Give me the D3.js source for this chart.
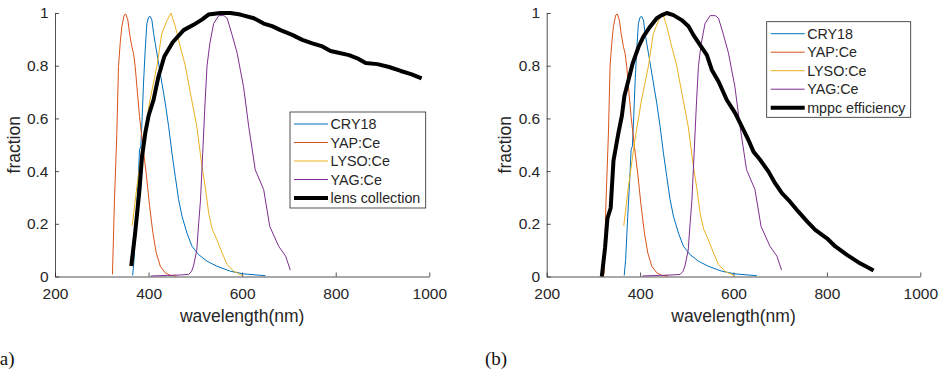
<!DOCTYPE html>
<html><head><meta charset="utf-8">
<script src="https://cdn.jsdelivr.net/npm/d3@7"></script>
<style>
html,body{margin:0;padding:0;background:#fff;}
svg{display:block;}
</style>
</head><body>
<svg id="chart" width="943" height="373"></svg>
<script>
// ---------- data ----------
const xTicks = [200, 400, 600, 800, 1000];
const yTicks = [0, 0.2, 0.4, 0.6, 0.8, 1];
const seriesNames = ["CRY18", "YAP:Ce", "LYSO:Ce", "YAG:Ce"];
const seriesColors = ["#0072BD", "#D95319", "#EDB120", "#7E2F8E"];

const cry18Wl  = [366,369,373.5,378.5,380.7,383.5,386.4,389.2,392.8,396.4,400,403.5,407.1,410.7,414.2,421.4,428.5,435.7,442.8,450,457,464.2,471.4,482,492.8,507,525,546,575,603,650];
const cry18Val = [0.004,0.064,0.228,0.393,0.481,0.494,0.607,0.734,0.86,0.961,0.984,0.987,0.973,0.923,0.885,0.81,0.734,0.658,0.57,0.468,0.38,0.292,0.229,0.165,0.115,0.083,0.058,0.039,0.02,0.01,0.003];

const yapWl  = [322.8,327.1,332.1,335.7,339.3,342.8,347.8,351.4,355.7,359.3,364.3,367.8,371.4,375,380.7,388,395,402,409.2,416.4,425,435.7,446.4,460];
const yapVal = [0.008,0.29,0.54,0.797,0.885,0.948,0.992,0.996,0.973,0.923,0.872,0.847,0.797,0.721,0.607,0.49,0.39,0.27,0.166,0.09,0.039,0.014,0.004,0.002];

const lysoWl  = [365,375,389,403,418,428,439,448,457,468,478.5,489,503,514,521,528.5,536,546,557,568,582,600];
const lysoVal = [0.193,0.34,0.52,0.67,0.80,0.92,0.97,1.0,0.95,0.87,0.80,0.70,0.57,0.42,0.34,0.24,0.18,0.14,0.09,0.045,0.02,0.004];

const yagWl  = [405,440,470,486,492,496,503,507,511,516,521,525,531,539,550,561,568,578,589,603,614,628,646,659,678,693,703];
const yagVal = [0.002,0.004,0.006,0.008,0.02,0.04,0.1,0.2,0.29,0.48,0.67,0.80,0.885,0.96,0.99,0.99,0.98,0.92,0.85,0.72,0.57,0.405,0.33,0.19,0.115,0.077,0.024];

const lensWl  = [363,371,380.6,386,393,400,410.6,421,433.6,452,475,496,514,528,553.6,575,596,625,646,664,682,707,728.6,750,771.5,789,803.6,828.5,846,864,889,914,939,961,983.6];
const lensVal = [0.04,0.16,0.33,0.455,0.545,0.61,0.67,0.758,0.835,0.89,0.935,0.955,0.975,0.994,1.0,1.0,0.994,0.98,0.96,0.95,0.935,0.917,0.898,0.885,0.873,0.856,0.85,0.84,0.828,0.81,0.806,0.795,0.78,0.768,0.752];

const mppcWl  = [318,325,330,337,343,353.6,361,366.4,375,384.3,396.4,407,421,435.7,446.4,457,471.4,489,503.6,514,528.6,543,553.6,567.9,585.7,603.6,621,632,643,657,675,689,703.6,721,739,757,775,800,818,843,871,900];
const mppcVal = [0,0.11,0.22,0.26,0.44,0.545,0.61,0.685,0.745,0.81,0.87,0.91,0.947,0.98,0.992,1.0,0.992,0.973,0.95,0.917,0.878,0.84,0.784,0.74,0.67,0.62,0.557,0.518,0.473,0.443,0.398,0.354,0.316,0.284,0.246,0.21,0.177,0.145,0.114,0.082,0.05,0.023];

const panelLabels = ["(a)", "(b)"];
const blackNames = ["lens collection", "mppc efficiency"];

// ---------- drawing ----------
const svg = d3.select("#chart");
const textColor = "#262626";
const sansFont = "'Liberation Sans', Arial, Helvetica, sans-serif";

const zip = (wl, v) => wl.map((w, i) => [w, v[i]]);
const baseSeries = [
  zip(cry18Wl, cry18Val),
  zip(yapWl, yapVal),
  zip(lysoWl, lysoVal),
  zip(yagWl, yagVal)
];
const blackSeries = [zip(lensWl, lensVal), zip(mppcWl, mppcVal)];

const panels = [
  {x0: 55, x1: 429.3, legend: {x: 290, y: 112, w: 135.7, h: 96}, ylabX: 14, label: {x: -6.5}},
  {x0: 546.7, x1: 920.3, legend: {x: 766.7, y: 21.7, w: 144, h: 95.6}, ylabX: 505, label: {x: 485}}
];
const yTop = 13, yBot = 276.5;

panels.forEach((p, pi) => {
  const x = d3.scaleLinear().domain([200, 1000]).range([p.x0, p.x1]);
  const y = d3.scaleLinear().domain([0, 1]).range([yBot, yTop]);
  const g = svg.append("g");

  // axes
  const xAxis = d3.axisBottom(x).tickValues(xTicks).tickSizeInner(-4).tickSizeOuter(0).tickPadding(11).tickFormat(d => String(d));
  const yAxis = d3.axisLeft(y).tickValues(yTicks).tickSizeInner(-4).tickSizeOuter(0).tickPadding(6.5).tickFormat(d => String(d));
  const gx = g.append("g").attr("transform", `translate(0,${yBot})`).call(xAxis);
  const gy = g.append("g").attr("transform", `translate(${p.x0},0)`).call(yAxis);
  [gx, gy].forEach(a => {
    a.selectAll("path, line").attr("stroke", textColor).attr("stroke-width", 0.8);
    a.selectAll("text").attr("fill", textColor).attr("font-family", sansFont).attr("font-size", 15.5);
  });

  // curves
  const line = d3.line().x(d => x(d[0])).y(d => y(d[1]));
  baseSeries.forEach((s, i) => {
    g.append("path").attr("d", line(s)).attr("fill", "none")
      .attr("stroke", seriesColors[i]).attr("stroke-width", 1).attr("stroke-linejoin", "round");
  });
  g.append("path").attr("d", line(blackSeries[pi])).attr("fill", "none")
    .attr("stroke", "#000").attr("stroke-width", 4).attr("stroke-linejoin", "round");

  // axis labels
  g.append("text").attr("x", (p.x0 + p.x1) / 2).attr("y", 322)
    .attr("text-anchor", "middle").attr("font-family", sansFont).attr("font-size", 17.5)
    .attr("fill", textColor).text("wavelength(nm)");
  g.append("text").attr("transform", `translate(${p.ylabX + 6},${(yTop + yBot) / 2}) rotate(-90)`)
    .attr("text-anchor", "middle").attr("font-family", sansFont).attr("font-size", 17.5)
    .attr("fill", textColor).text("fraction");

  // legend
  const L = p.legend;
  const lg = g.append("g");
  lg.append("rect").attr("x", L.x).attr("y", L.y).attr("width", L.w).attr("height", L.h)
    .attr("fill", "#fff").attr("stroke", textColor).attr("stroke-width", 0.8);
  const names = seriesNames.concat([blackNames[pi]]);
  const colors = seriesColors.concat(["#000"]);
  names.forEach((n, i) => {
    const cy = L.y + 12 + i * 18.5;
    lg.append("line").attr("x1", L.x + 4).attr("x2", L.x + 38).attr("y1", cy).attr("y2", cy)
      .attr("stroke", colors[i]).attr("stroke-width", i === 4 ? 4 : 1);
    lg.append("text").attr("x", L.x + 40.5).attr("y", cy).attr("dy", "0.35em")
      .attr("font-family", sansFont).attr("font-size", 14.3).attr("fill", textColor).text(n);
  });

  // panel label
  g.append("text").attr("x", p.label.x).attr("y", 365)
    .attr("font-family", "'Liberation Serif', 'DejaVu Serif', serif").attr("font-size", 19)
    .attr("fill", "#111").text(panelLabels[pi]);
});
</script>
</body></html>
